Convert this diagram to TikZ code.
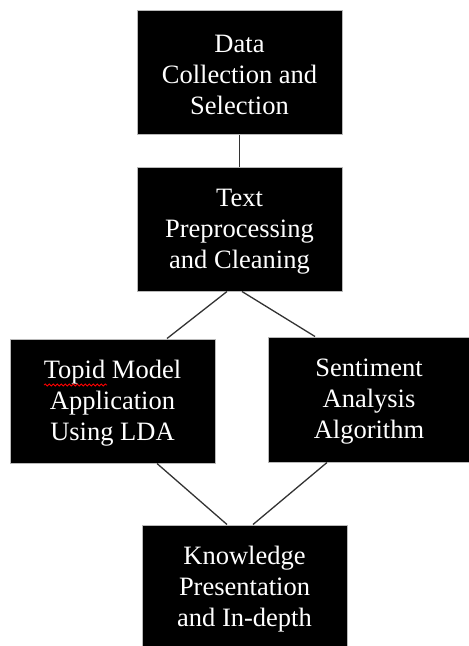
\documentclass[tikz,border=0pt]{standalone}
\usepackage{fontspec}
\setmainfont{Liberation Serif}
\usetikzlibrary{decorations.pathmorphing}
\begin{document}
\begin{tikzpicture}[x=1pt,y=-1pt,
  blk/.style={draw=gray!55,line width=1pt,fill=black,minimum width=205pt,minimum height=124pt,inner sep=0pt},
  lbl/.style={text=white,align=center,inner sep=0pt,yshift=-2.5pt,font=\fontsize{26.5}{31}\selectfont},
  con/.style={draw=black!80,line width=1.3pt}]
\useasboundingbox (0,0) rectangle (469,646);
\node[blk,label={[lbl]center:Data\\Collection and\\Selection}] (d) at (239.5,72.5) {};
\node[blk,label={[lbl]center:Text\\Preprocessing\\and Cleaning}] (t) at (239.5,229) {};
\node[blk,label={[lbl]center:Topid Model\\Application\\Using LDA}] (l) at (112.5,401) {};
\node[blk,minimum width=202pt,minimum height=125pt,label={[lbl]center:Sentiment\\Analysis\\Algorithm}] (s) at (369,399.5) {};
\node[blk,label={[lbl]center:Knowledge\\Presentation\\and In-depth}] (k) at (244.5,587) {};
\draw[con] (d.south) -- (t.north);
\draw[con] ([xshift=-12.5pt]t.south) -- ([xshift=54.5pt]l.north);
\draw[con] ([xshift=2.5pt]t.south) -- ([xshift=-54pt]s.north);
\draw[con] ([xshift=44.5pt]l.south) -- ([xshift=-17.5pt]k.north);
\draw[con] ([xshift=-42pt]s.south) -- ([xshift=8.5pt]k.north);
\draw[red,line width=0.8pt,decorate,decoration={snake,amplitude=1pt,segment length=4pt}] (44,385) -- (107,385);
\end{tikzpicture}
\end{document}
